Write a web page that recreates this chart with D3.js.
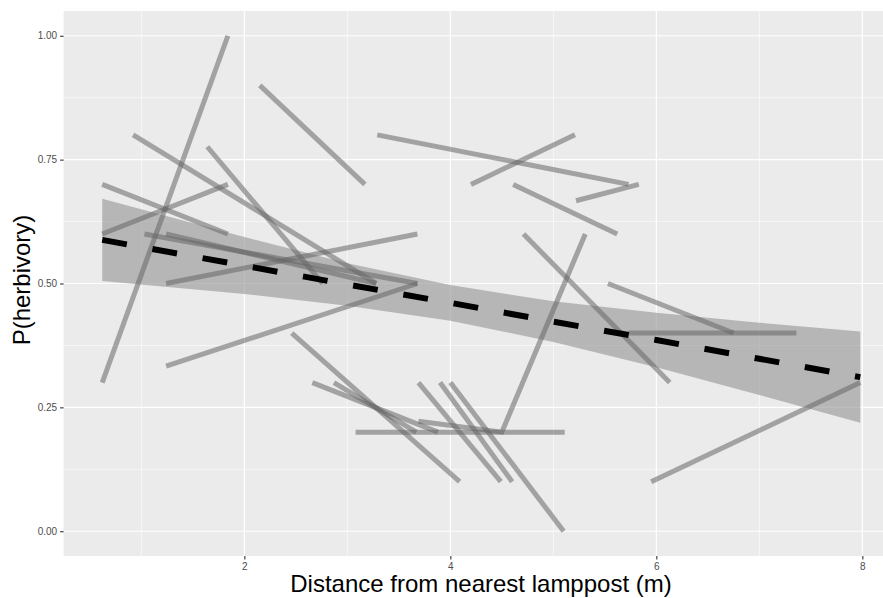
<!DOCTYPE html>
<html>
<head>
<meta charset="utf-8">
<script src="https://cdn.jsdelivr.net/npm/d3@7"></script>
<style>
  html, body { margin: 0; padding: 0; background: #ffffff; }
  svg { display: block; }
  text { font-family: "Liberation Sans", Arial, Helvetica, sans-serif; }
</style>
</head>
<body>
<svg id="chart" width="883" height="598"></svg>
<script>
// ---- data ----
const segX = [
  [0.62, 1.84], [0.62, 1.84], [0.62, 1.84], [0.92, 3.28], [1.64, 2.76],
  [2.15, 3.17], [3.29, 5.73], [4.20, 5.21], [4.61, 5.62], [5.22, 5.83],
  [4.71, 6.13], [3.69, 4.50, 5.31], [5.53, 6.75], [5.73, 7.36], [5.95, 7.98],
  [1.24, 3.68], [1.24, 3.68], [1.03, 3.68], [1.24, 3.28], [2.46, 4.09],
  [2.66, 3.88], [2.87, 3.67], [3.69, 4.49], [3.90, 4.60], [4.00, 5.10],
  [3.08, 5.11]
];
const segY = [
  [0.30, 1.00], [0.70, 0.60], [0.60, 0.70], [0.80, 0.50], [0.776, 0.50],
  [0.90, 0.70], [0.80, 0.70], [0.70, 0.80], [0.70, 0.60], [0.667, 0.70],
  [0.60, 0.30], [0.222, 0.20, 0.60], [0.50, 0.40], [0.40, 0.40], [0.10, 0.30],
  [0.333, 0.50], [0.50, 0.60], [0.60, 0.50], [0.60, 0.50], [0.40, 0.10],
  [0.30, 0.20], [0.30, 0.20], [0.30, 0.10], [0.30, 0.10], [0.30, 0.00],
  [0.20, 0.20]
];
// fitted trend and its confidence band
const fitX     = [0.62, 2, 3, 4, 5, 6, 7, 7.98];
const fitY     = [0.588, 0.536, 0.498, 0.461, 0.423, 0.386, 0.348, 0.311];
const fitLower = [0.505, 0.479, 0.455, 0.425, 0.382, 0.331, 0.275, 0.219];
const fitUpper = [0.671, 0.594, 0.541, 0.497, 0.464, 0.441, 0.421, 0.403];

const xTicks = [2, 4, 6, 8];
const xMinor = [1, 3, 5, 7, 9];
const yTicks = [0, 0.25, 0.5, 0.75, 1];
const yMinor = [0.125, 0.375, 0.625, 0.875];
const xTitle = "Distance from nearest lamppost (m)";
const yTitle = "P(herbivory)";

// ---- layout ----
const svg = d3.select("#chart");
const panel = { left: 63.6, right: 898.9, top: 11, bottom: 556 };
const x = d3.scaleLinear().domain([0.245, 8.355]).range([panel.left, panel.right]);
const y = d3.scaleLinear().domain([-0.05, 1.05]).range([panel.bottom, panel.top]);

svg.append("rect")
  .attr("x", panel.left).attr("y", panel.top)
  .attr("width", panel.right - panel.left).attr("height", panel.bottom - panel.top)
  .attr("fill", "#ebebeb");

const grid = svg.append("g");
grid.selectAll("line.xminor").data(xMinor).join("line")
  .attr("x1", d => x(d)).attr("x2", d => x(d))
  .attr("y1", panel.top).attr("y2", panel.bottom)
  .attr("stroke", "#ffffff").attr("stroke-width", 0.6);
grid.selectAll("line.yminor").data(yMinor).join("line")
  .attr("y1", d => y(d)).attr("y2", d => y(d))
  .attr("x1", panel.left).attr("x2", panel.right)
  .attr("stroke", "#ffffff").attr("stroke-width", 0.6);
grid.selectAll("line.xmajor").data(xTicks).join("line")
  .attr("x1", d => x(d)).attr("x2", d => x(d))
  .attr("y1", panel.top).attr("y2", panel.bottom)
  .attr("stroke", "#ffffff").attr("stroke-width", 1.2);
grid.selectAll("line.ymajor").data(yTicks).join("line")
  .attr("y1", d => y(d)).attr("y2", d => y(d))
  .attr("x1", panel.left).attr("x2", panel.right)
  .attr("stroke", "#ffffff").attr("stroke-width", 1.2);

// ribbon
const band = fitX.map((v, i) => ({ x: v, lo: fitLower[i], hi: fitUpper[i], f: fitY[i] }));
svg.append("path")
  .datum(band)
  .attr("d", d3.area().x(d => x(d.x)).y0(d => y(d.lo)).y1(d => y(d.hi)))
  .attr("fill", "#999999").attr("fill-opacity", 0.65);

// grey segments
const segs = segX.map((xs, i) => xs.map((v, j) => ({ x: v, y: segY[i][j] })));
const line = d3.line().x(d => x(d.x)).y(d => y(d.y));
svg.append("g").selectAll("path").data(segs).join("path")
  .attr("d", line)
  .attr("fill", "none")
  .attr("stroke", "#666666").attr("stroke-opacity", 0.55)
  .attr("stroke-width", 5);

// dashed trend
svg.append("path")
  .datum(band)
  .attr("d", d3.line().x(d => x(d.x)).y(d => y(d.f)))
  .attr("fill", "none").attr("stroke", "#000000")
  .attr("stroke-width", 6).attr("stroke-dasharray", "25 26");

// axes
const xAxis = d3.axisBottom(x).tickValues(xTicks).tickSize(3.5).tickPadding(3)
  .tickFormat(d3.format("d"));
const gx = svg.append("g").attr("transform", `translate(0,${panel.bottom})`).call(xAxis);
const yAxis = d3.axisLeft(y).tickValues(yTicks).tickSize(3.5).tickPadding(3)
  .tickFormat(d3.format(".2f"));
const gy = svg.append("g").attr("transform", `translate(${panel.left},0)`).call(yAxis);
[gx, gy].forEach(g => {
  g.select(".domain").remove();
  g.selectAll(".tick line").attr("stroke", "#333333").attr("stroke-width", 1.1);
  g.selectAll(".tick text").attr("fill", "#4d4d4d")
    .style("font-family", "'Liberation Sans', Arial, sans-serif").style("font-size", "10px");
});

svg.append("text")
  .attr("x", 481).attr("y", 592)
  .attr("text-anchor", "middle").attr("fill", "#000000")
  .style("font-size", "24px").text(xTitle);
svg.append("text")
  .attr("transform", `translate(30,280) rotate(-90)`)
  .attr("text-anchor", "middle").attr("fill", "#000000")
  .style("font-size", "24px").text(yTitle);
</script>
</body>
</html>
